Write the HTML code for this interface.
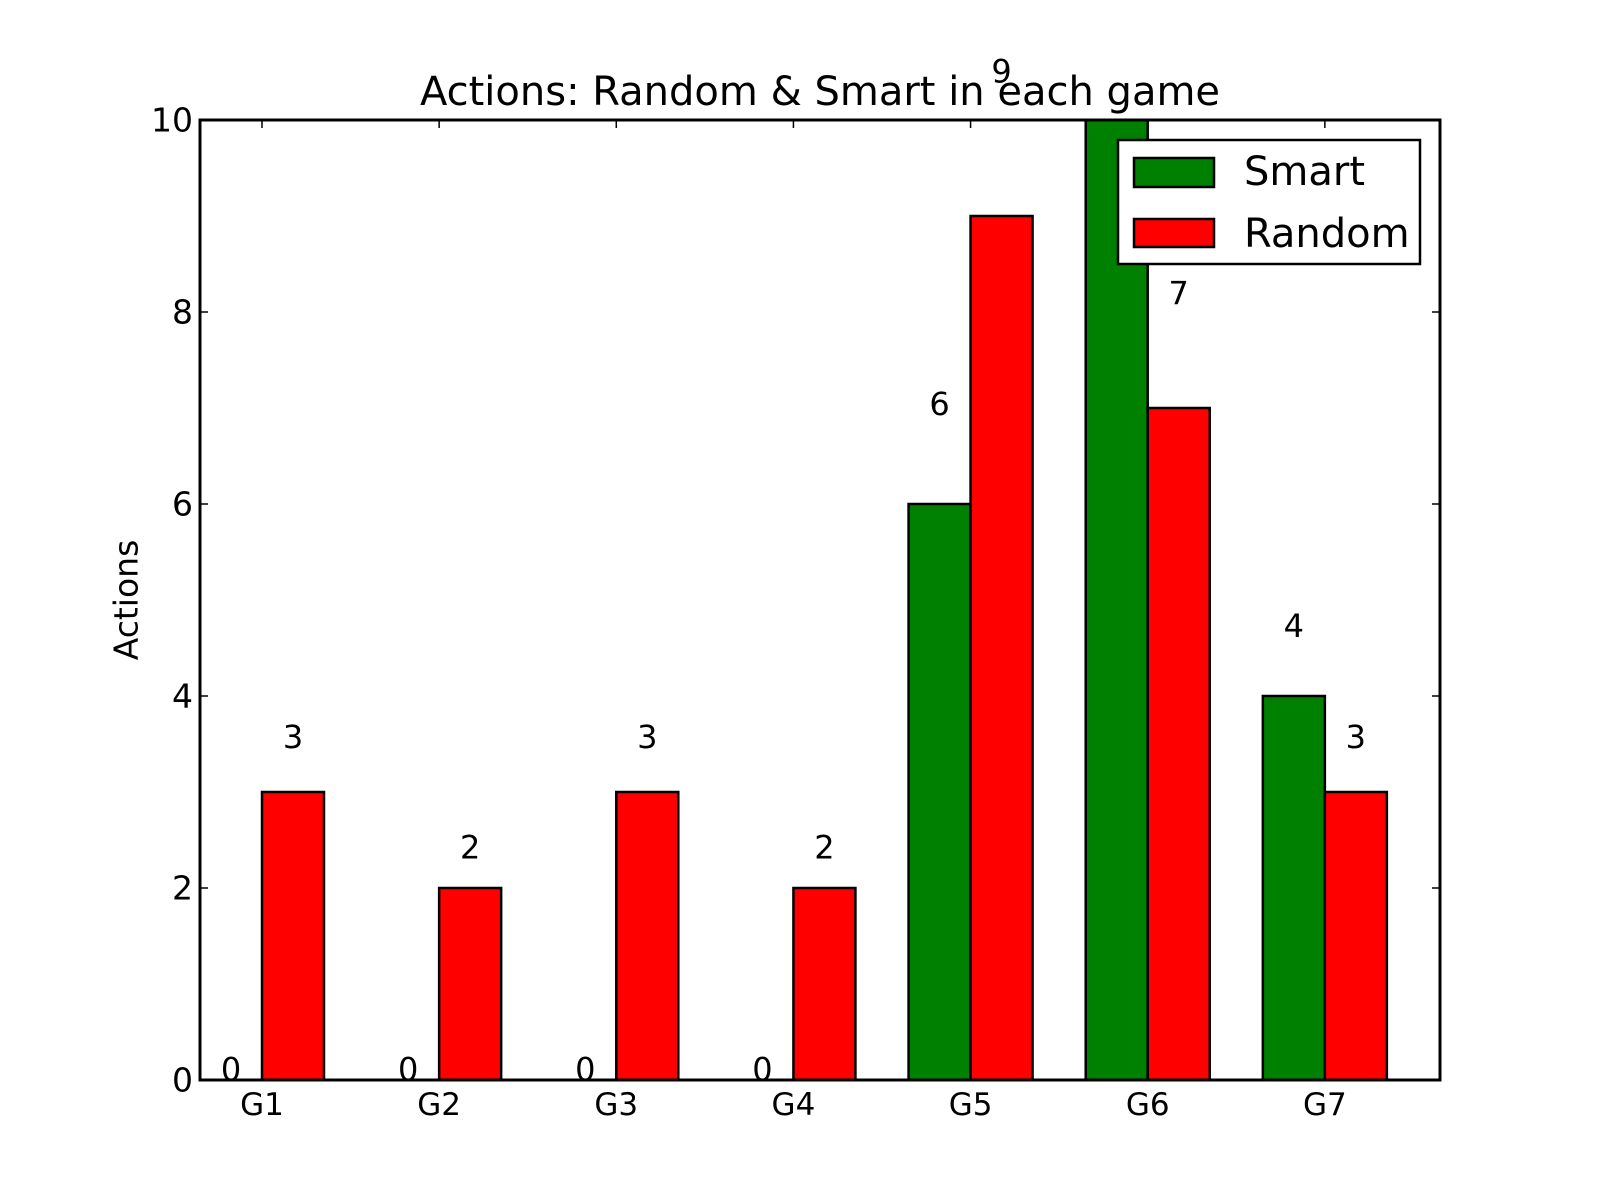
<!DOCTYPE html>
<html><head><meta charset="utf-8"><style>html,body{margin:0;padding:0;background:#fff}svg{display:block;font-family:"DejaVu Sans","Liberation Sans",sans-serif}</style></head>
<body>
<svg id="chart" width="1600" height="1200" xmlns="http://www.w3.org/2000/svg"></svg>
<script>
const categories = ["G1","G2","G3","G4","G5","G6","G7"];
const smartValues = [0,0,0,0,6,10,4];
const randomValues = [3,2,3,2,9,7,3];
const yTicks = [0,2,4,6,8,10];

const L=200,R=1440,T=120,B=1080,xMin=0,xMax=7,yMin=0,yMax=10,W=0.35;
const sx=v=>L+(v-xMin)/(xMax-xMin)*(R-L);
const sy=v=>B-(v-yMin)/(yMax-yMin)*(B-T);
const ly=h=>sy(0.11+1.155*h);
const svg=document.getElementById('chart');
const NS='http://www.w3.org/2000/svg';
function mk(tag,attrs,txt){const e=document.createElementNS(NS,tag);for(const k in attrs)e.setAttribute(k,attrs[k]);if(txt!==undefined)e.textContent=txt;svg.appendChild(e);return e;}

categories.forEach((c,i)=>{
  let e=mk('rect',{x:sx(i),y:sy(smartValues[i]),width:sx(i+W)-sx(i),height:sy(0)-sy(smartValues[i]),fill:'#008000',stroke:'#000','stroke-width':2.5});
  
  
  e=mk('rect',{x:sx(i+W),y:sy(randomValues[i]),width:sx(i+2*W)-sx(i+W),height:sy(0)-sy(randomValues[i]),fill:'#ff0000',stroke:'#000','stroke-width':2.5});
  
  
  e=mk('text',{x:sx(i+W/2),y:ly(smartValues[i]),'font-size':32,'text-anchor':'middle','dominant-baseline':'central'},String(smartValues[i]));
  
  
  e=mk('text',{x:sx(i+1.5*W),y:ly(randomValues[i]),'font-size':32,'text-anchor':'middle','dominant-baseline':'central'},String(randomValues[i]));
  
  
  const tx=sx(i+W);
  mk('line',{x1:tx,x2:tx,y1:B,y2:B-8,stroke:'#000','stroke-width':1.5});
  mk('line',{x1:tx,x2:tx,y1:T,y2:T+8,stroke:'#000','stroke-width':1.5});
  e=mk('text',{x:tx,y:1105,'font-size':31,'text-anchor':'middle','dominant-baseline':'central'},c);
  
  
});
yTicks.forEach(v=>{
  mk('line',{x1:L,x2:L+8,y1:sy(v),y2:sy(v),stroke:'#000','stroke-width':1.5});
  mk('line',{x1:R,x2:R-8,y1:sy(v),y2:sy(v),stroke:'#000','stroke-width':1.5});
  const e=mk('text',{x:193,y:sy(v),'font-size':33,'text-anchor':'end','dominant-baseline':'central'},String(v));
  
  
});
let f=mk('rect',{x:L,y:T,width:R-L,height:B-T,fill:'none',stroke:'#000','stroke-width':3});


let t=mk('text',{x:820,y:92,'font-size':40,'text-anchor':'middle','dominant-baseline':'central'},'Actions: Random & Smart in each game');


t=mk('text',{x:126,y:600,'font-size':33,'text-anchor':'middle','dominant-baseline':'central',transform:'rotate(-90 126 600)'},'Actions');


let lg=mk('rect',{x:1118,y:140,width:302,height:124,fill:'#fff',stroke:'#000','stroke-width':2.5});


mk('rect',{x:1134,y:158,width:80,height:29,fill:'#008000',stroke:'#000','stroke-width':2.5});
t=mk('text',{x:1244,y:172,'font-size':40,'dominant-baseline':'central'},'Smart');


mk('rect',{x:1134,y:219,width:80,height:28,fill:'#ff0000',stroke:'#000','stroke-width':2.5});
t=mk('text',{x:1244,y:234,'font-size':40,'dominant-baseline':'central'},'Random');


</script>
</body></html>
